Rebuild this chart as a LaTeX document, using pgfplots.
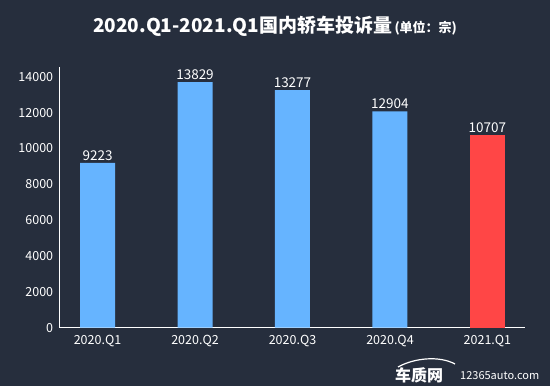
\documentclass[border=0pt]{standalone}
\usepackage{pgfplots}
\pgfplotsset{compat=1.18}
\usepackage{fontspec}
\setmainfont{Noto Sans CJK SC}
\definecolor{bg}{RGB}{38,46,61}
\definecolor{barblue}{RGB}{102,180,255}
\definecolor{barred}{RGB}{255,70,70}
\begin{document}
\begin{tikzpicture}
\fill[bg] (-59.7pt,-58.3pt) rectangle ++(550pt,386pt);
\node[white,anchor=center] at (215.3pt,301.7pt) {{\fontsize{19}{20}\selectfont\bfseries 2020.Q1-2021.Q1国内轿车投诉量} {\fontsize{13}{14}\selectfont\bfseries (单位：宗)}};
\begin{axis}[
  at={(0pt,0pt)}, anchor=south west,
  scale only axis, width=465.3pt, height=260.7pt,
  xmin=-0.388, xmax=4.385, ymin=0, ymax=14541,
  axis lines*=left, axis line style={white, line width=0.9pt, -},
  ytick={0,2000,...,14000},
  scaled y ticks=false,
  xtick={0,1,2,3,4},
  xticklabels={2020.Q1,2020.Q2,2020.Q3,2020.Q4,2021.Q1},
  major tick length=0pt,
  tick label style={white, font=\fontsize{12.5}{13}\selectfont},
  yticklabel style={/pgf/number format/1000 sep={}, xshift=-3pt},
  xticklabel style={yshift=-4pt},
  /pgf/number format/assume math mode=true,
  ybar, bar width=35pt,
  point meta=explicit symbolic,
  nodes near coords,
  nodes near coords style={white, font=\fontsize{13.5}{14}\selectfont, anchor=south, yshift=-1pt},
  clip=false,
]
\addplot[fill=barblue, draw=none, bar shift=0pt] coordinates {
  (0,9200) [9223]
  (1,13700) [13829]
  (2,13255) [13277]
  (3,12060) [12904]
};
\addplot[fill=barred, draw=none, bar shift=0pt] coordinates {
  (4,10740) [10707]
};
\end{axis}
\draw[white, line width=1.2pt] (338.3pt,-39.3pt) .. controls (355pt,-30pt) and (380pt,-28pt) .. (395.3pt,-36.3pt);
\node[white, anchor=west, inner sep=0pt] at (335.3pt,-47.3pt) {\fontsize{16}{16}\selectfont\bfseries 车质网};
\node[white, anchor=west, inner sep=0pt] at (400.3pt,-48.3pt) {\fontsize{11}{11}\selectfont 12365auto.com};
\end{tikzpicture}
\end{document}
